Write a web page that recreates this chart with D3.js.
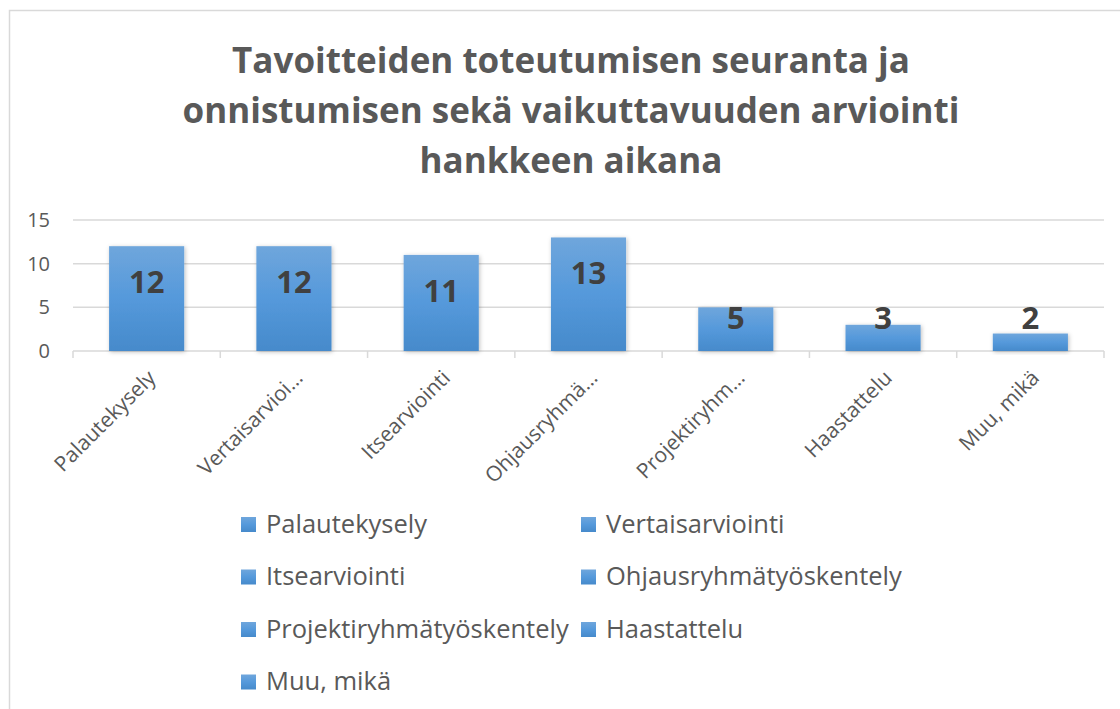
<!DOCTYPE html>
<html>
<head>
<meta charset="utf-8">
<script src="https://cdn.jsdelivr.net/npm/d3@7"></script>
<style>
  body { margin: 0; background: #fff; }
  svg { display: block; font-family: "Open Sans", sans-serif; }
</style>
</head>
<body>
<script>
// Chart data
var categories = ["Palautekysely", "Vertaisarviointi", "Itsearviointi", "Ohjausryhmätyöskentely",
                  "Projektiryhmätyöskentely", "Haastattelu", "Muu, mikä"];
var tickLabels = ["Palautekysely", "Vertaisarvioi…", "Itsearviointi", "Ohjausryhmä…",
                  "Projektiryhm…", "Haastattelu", "Muu, mikä"];
var values = [12, 12, 11, 13, 5, 3, 2];
var yTicks = [0, 5, 10, 15];
var titleLines = ["Tavoitteiden toteutumisen seuranta ja",
                  "onnistumisen sekä vaikuttavuuden arviointi",
                  "hankkeen aikana"];

var width = 1120, height = 709;
var margin = {left: 73, right: 16, top: 220, bottom: 358}; // plot area edges

var svg = d3.select("body").append("svg").attr("width", width).attr("height", height);

// gradient + soft shadow for bars
var defs = svg.append("defs");
var grad = defs.append("linearGradient").attr("id", "barGrad")
    .attr("x1", 0).attr("y1", 0).attr("x2", 0).attr("y2", 1);
grad.append("stop").attr("offset", "0%").attr("stop-color", "#6fa6dc");
grad.append("stop").attr("offset", "50%").attr("stop-color", "#5599db");
grad.append("stop").attr("offset", "100%").attr("stop-color", "#468acb");
var shadow = defs.append("filter").attr("id", "shadow")
    .attr("x", "-20%").attr("y", "-20%").attr("width", "140%").attr("height", "140%");
shadow.append("feDropShadow").attr("dx", 1).attr("dy", 1).attr("stdDeviation", 2)
    .attr("flood-color", "#000").attr("flood-opacity", 0.25);

// chart border (left + top visible)
svg.append("path").attr("d", "M9.5,709 V10.5 H1120")
    .attr("fill", "none").attr("stroke", "#d9d9d9").attr("stroke-width", 1.5);

// Title
svg.append("g").selectAll("text").data(titleLines).enter().append("text")
    .attr("x", 571).attr("y", function(d, i){ return 73 + i * 50; })
    .attr("text-anchor", "middle")
    .attr("font-size", 35).attr("font-weight", "bold").attr("fill", "#595959")
    .text(function(d){ return d; });

// Scales
var x = d3.scaleBand().domain(categories)
    .range([margin.left, width - margin.right])
    .paddingInner(0.49).paddingOuter(0.245);
var y = d3.scaleLinear().domain([0, 15]).range([351, margin.top]);

// gridlines
svg.append("g").selectAll("line").data(yTicks.slice(1)).enter().append("line")
    .attr("x1", margin.left).attr("x2", width - margin.right)
    .attr("y1", function(d){ return y(d); }).attr("y2", function(d){ return y(d); })
    .attr("stroke", "#d9d9d9").attr("stroke-width", 1.5);

// y axis labels
var yAxis = d3.axisLeft(y).tickValues(yTicks).tickSize(0).tickPadding(0);
var yg = svg.append("g").attr("transform", "translate(50,0)").call(yAxis);
yg.select(".domain").remove();
yg.selectAll("text").attr("font-size", 20).attr("fill", "#595959")
    .attr("font-family", "Open Sans, sans-serif");

// x axis line with category boundary ticks
var step = x.step();
var boundaries = d3.range(categories.length + 1).map(function(i){ return margin.left + i * step; });
svg.append("line").attr("x1", margin.left).attr("x2", width - margin.right)
    .attr("y1", 351).attr("y2", 351).attr("stroke", "#d9d9d9").attr("stroke-width", 1.5);
svg.append("g").selectAll("line").data(boundaries).enter().append("line")
    .attr("x1", function(d){ return d; }).attr("x2", function(d){ return d; })
    .attr("y1", 351).attr("y2", 358).attr("stroke", "#d9d9d9").attr("stroke-width", 1.5);

// bars
svg.append("g").selectAll("rect").data(values).enter().append("rect")
    .attr("x", function(d, i){ return x(categories[i]); })
    .attr("y", function(d){ return y(d); })
    .attr("width", x.bandwidth())
    .attr("height", function(d){ return y(0) - y(d); })
    .attr("fill", "url(#barGrad)")
    .attr("filter", "url(#shadow)");

// value labels
svg.append("g").selectAll("text").data(values).enter().append("text")
    .attr("x", function(d, i){ return x(categories[i]) + x.bandwidth() / 2; })
    .attr("y", function(d){ return Math.min(y(d) + 36, y(0) - 33); })
    .attr("dy", "0.35em")
    .attr("text-anchor", "middle")
    .attr("font-size", 31).attr("font-weight", "bold").attr("fill", "#404040")
    .text(function(d){ return d; });

// rotated category labels
svg.append("g").selectAll("text").data(tickLabels).enter().append("text")
    .attr("transform", function(d, i){
        var cx = x(categories[i]) + x.bandwidth() / 2;
        return "translate(" + (cx + 5) + ",374) rotate(-45)";
    })
    .attr("text-anchor", "end")
    .attr("dy", "0.35em")
    .attr("font-size", 21).attr("fill", "#595959")
    .text(function(d){ return d; });

// legend
var legend = svg.append("g").selectAll("g").data(categories).enter().append("g")
    .attr("transform", function(d, i){
        var col = i % 2, row = Math.floor(i / 2);
        return "translate(" + (241 + col * 340) + "," + (524 + row * 52.5) + ")";
    });
legend.append("rect").attr("x", 0).attr("y", -7).attr("width", 15).attr("height", 15)
    .attr("fill", "url(#barGrad)");
legend.append("text").attr("x", 25).attr("dy", "0.35em")
    .attr("font-size", 25.5).attr("fill", "#595959")
    .text(function(d){ return d; });
</script>
</body>
</html>
